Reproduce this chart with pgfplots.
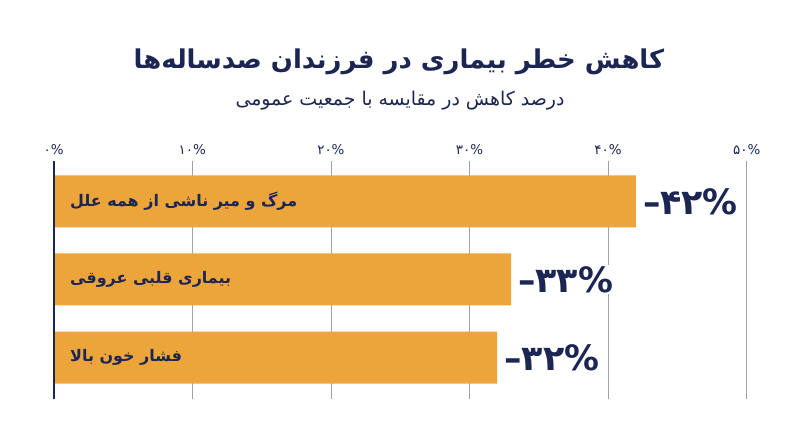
\documentclass[border=0pt]{standalone}
\usepackage{fontspec}
\usepackage{pgfplots}
\pgfplotsset{compat=1.18}
\TeXXeTstate=1
\newfontfamily\arabicfont[Script=Arabic]{DejaVu Sans}
\newfontfamily\latinfont{DejaVu Sans}
\definecolor{barorange}{HTML}{ECA53B}
\definecolor{navy}{HTML}{1B2653}
\definecolor{gridgray}{HTML}{A3A3A3}
\newcommand{\val}[1]{{\latinfont\bfseries –}{\arabicfont\bfseries #1}{\latinfont\bfseries\%}}

\begin{document}
\begin{tikzpicture}
\useasboundingbox (0,0) rectangle (800bp,447bp);
% title + subtitle
\node[navy, font=\arabicfont\bfseries\fontsize{26}{30}\selectfont] at (399bp,385bp) {\beginR کاهش خطر بیماری در فرزندان صدساله‌ها\endR};
\node[navy, font=\arabicfont\fontsize{19}{22}\selectfont] at (400bp,346bp) {\beginR درصد کاهش در مقایسه با جمعیت عمومی\endR};
\begin{axis}[
  at={(53.7bp,48bp)}, anchor=south west,
  scale only axis, width=693bp, height=238bp,
  xbar, bar width=52bp, clip=false,
  xmin=0, xmax=50, ymin=-0.519, ymax=2.532, y dir=reverse,
  xtick={0,10,20,30,40,50},
  xticklabels={۰\%,۱۰\%,۲۰\%,۳۰\%,۴۰\%,۵۰\%},
  xticklabel pos=upper,
  xticklabel style={font=\arabicfont\fontsize{13.5}{15}\selectfont, text=navy, yshift=3bp},
  ytick=\empty, major tick length=0pt,
  axis line style={draw=none},
  xmajorgrids, grid style={gridgray, line width=0.8bp},
  point meta=explicit symbolic,
  nodes near coords,
  nodes near coords style={font=\fontsize{35}{37}\selectfont, text=navy, fill=white, inner sep=1bp, anchor=west, xshift=6bp},
]
\addplot[fill=barorange, draw=none] coordinates {(42,0) [\val{۴۲}] (33,1) [\val{۳۳}] (32,2) [\val{۳۲}]};
\draw[navy, line width=2bp] (axis cs:0,-0.519) -- (axis cs:0,2.532);
% bar labels
\node[anchor=west, text=navy, font=\arabicfont\bfseries\fontsize{16}{18}\selectfont, xshift=13bp] at (axis cs:0,0) {\beginR مرگ و میر ناشی از همه علل\endR};
\node[anchor=west, text=navy, font=\arabicfont\bfseries\fontsize{16}{18}\selectfont, xshift=13bp] at (axis cs:0,1) {\beginR بیماری قلبی عروقی\endR};
\node[anchor=west, text=navy, font=\arabicfont\bfseries\fontsize{16}{18}\selectfont, xshift=13bp] at (axis cs:0,2) {\beginR فشار خون بالا\endR};
\end{axis}
\end{tikzpicture}
\end{document}
